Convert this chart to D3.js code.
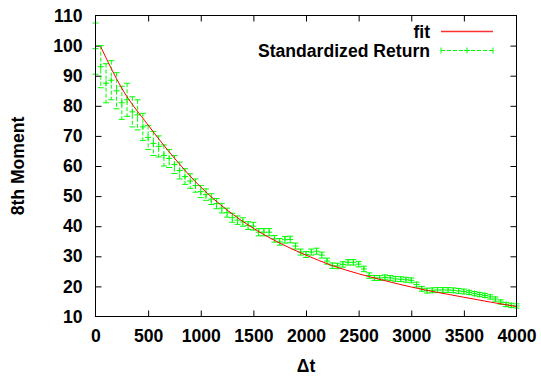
<!DOCTYPE html>
<html>
<head>
<meta charset="utf-8">
<script src="https://cdn.jsdelivr.net/npm/d3@7"></script>
<style>
  html, body { margin: 0; padding: 0; background: #fff; }
  svg { display: block; }
  text { font-family: "Liberation Sans", Arial, sans-serif; font-weight: bold; fill: #000; }
</style>
</head>
<body>
<svg id="chart" width="541" height="377"></svg>
<script>
// ---- Data ----
const dtValues = [
  0, 50, 100, 150, 200, 250, 300, 350, 400, 450,
  500, 550, 600, 650, 700, 750, 800, 850, 900, 950,
  1000, 1050, 1100, 1150, 1200, 1250, 1300, 1350, 1400, 1450,
  1500, 1550, 1600, 1650, 1700, 1750, 1800, 1850, 1900, 1950,
  2000, 2050, 2100, 2150, 2200, 2250, 2300, 2350, 2400, 2450,
  2500, 2550, 2600, 2650, 2700, 2750, 2800, 2850, 2900, 2950,
  3000, 3050, 3100, 3150, 3200, 3250, 3300, 3350, 3400, 3450,
  3500, 3550, 3600, 3650, 3700, 3750, 3800, 3850, 3900, 3950,
  4000
];
const momentValues = [
  99, 93, 87.5, 88.5, 85, 81, 82, 78, 77, 73,
  69.5, 67.5, 66.5, 63.5, 62.5, 60.5, 58.5, 56.5, 55, 53.5,
  51.5, 50.5, 49, 47.5, 46, 44.5, 42.8, 42, 41.4, 40.2,
  40, 38, 38, 38, 35.8, 34.8, 35.5, 35.6, 33.4, 31.4,
  30.6, 31.4, 31.7, 30.4, 28.4, 26.9, 26.8, 27.3, 28, 28,
  27.4, 25.8, 23.6, 22.8, 22.8, 23, 22.8, 22.5, 22.4, 22.2,
  22, 20.6, 19.2, 18.6, 18.7, 18.8, 18.8, 18.8, 18.7, 18.5,
  18.3, 18, 17.6, 17.3, 17, 16.5, 15.8, 14.8, 14, 13.7,
  13.5
];
const momentErrors = [
  8.5, 7, 6.5, 6.5, 6, 5.5, 5.5, 5, 5, 4.5,
  4, 4, 3.5, 3.5, 3, 3, 2.8, 2.6, 2.4, 2.2,
  2, 1.9, 1.8, 1.7, 1.6, 1.5, 1.5, 1.4, 1.4, 1.3,
  1.3, 1.2, 1.2, 1.2, 1.1, 1.1, 1.1, 1.1, 1.0, 1.0,
  1.0, 1.0, 1.0, 1.0, 1.0, 0.9, 0.9, 0.9, 0.9, 0.9,
  0.9, 0.9, 0.9, 0.8, 0.8, 0.8, 0.8, 0.8, 0.8, 0.8,
  0.8, 0.8, 0.8, 0.8, 0.8, 0.8, 0.8, 0.8, 0.8, 0.8,
  0.8, 0.7, 0.7, 0.7, 0.7, 0.7, 0.7, 0.7, 0.7, 0.7,
  0.7
];
const fitDt = [50, 250, 500, 750, 1000, 1250, 1500, 1750, 2000, 2250, 2500, 2750, 3000, 3250, 3500, 3750, 4000];
const fitValues = [99.6, 85.8, 73.6, 62.6, 53.0, 45.4, 39.3, 34.4, 30.4, 26.9, 24.2, 21.9, 19.8, 18.0, 16.4, 14.8, 13.3];
const xTicks = [0, 500, 1000, 1500, 2000, 2500, 3000, 3500, 4000];
const yTicks = [10, 20, 30, 40, 50, 60, 70, 80, 90, 100, 110];
const xTitle = "\u0394t";
const yTitle = "8th Moment";
const legendLabels = ["fit", "Standardized Return"];

// ---- Layout ----
const svg = d3.select("#chart");
const L = 95.5, R = 516.5, T = 15.5, B = 316.5;
const x = d3.scaleLinear().domain([0, 4000]).range([L, R]);
const y = d3.scaleLinear().domain([10, 110]).range([B, T]);
const green = "#00ff00", red = "#ff0000";
const tick = 6;
const fs = 17.6;

// axes
const gl = svg.append("g").attr("transform", `translate(${L},0)`)
  .call(d3.axisLeft(y).tickValues(yTicks).tickSize(-tick).tickPadding(13).tickFormat(d3.format("d")));
const gr = svg.append("g").attr("transform", `translate(${R},0)`)
  .call(d3.axisRight(y).tickValues(yTicks.slice(1, -1)).tickSize(-tick).tickFormat(""));
const gb = svg.append("g").attr("transform", `translate(0,${B})`)
  .call(d3.axisBottom(x).tickValues(xTicks).tickSize(-tick).tickPadding(13.5).tickFormat(d3.format("d")));
const gt = svg.append("g").attr("transform", `translate(0,${T})`)
  .call(d3.axisTop(x).tickValues(xTicks.slice(1, -1)).tickSize(-tick).tickFormat(""));
[gl, gr, gb, gt].forEach(g => {
  g.select(".domain").remove();
  g.selectAll("line").attr("stroke", "#000").attr("stroke-width", 1);
  g.selectAll("text").attr("font-size", fs).attr("font-family", "Liberation Sans, Arial, sans-serif").attr("font-weight", "bold").attr("fill", "#000");
});
gl.selectAll(".tick line").filter(d => d === 10 || d === 110).remove();
gb.selectAll(".tick line").filter(d => d === 0 || d === 4000).remove();

// data group (error bars)
const data = dtValues.map((d, i) => ({ dt: d, v: momentValues[i], e: momentErrors[i] }));
const pts = svg.append("g");
const cap = 3, cross = 3;
data.forEach(d => {
  const cx = x(d.dt), y1 = y(d.v + d.e), y0 = y(d.v - d.e);
  pts.append("line").attr("x1", cx).attr("x2", cx).attr("y1", y1).attr("y2", y0)
    .attr("stroke", green).attr("stroke-width", 1).attr("stroke-dasharray", "4,2");
  pts.append("line").attr("x1", cx - cap).attr("x2", cx + cap).attr("y1", y1).attr("y2", y1)
    .attr("stroke", green).attr("stroke-width", 1);
  pts.append("line").attr("x1", cx - cap).attr("x2", cx + cap).attr("y1", y0).attr("y2", y0)
    .attr("stroke", green).attr("stroke-width", 1);
});

// fit line
const line = d3.line().x(d => x(d[0])).y(d => y(d[1])).curve(d3.curveMonotoneX);
svg.append("path").datum(fitDt.map((d, i) => [d, fitValues[i]]))
  .attr("d", line).attr("fill", "none").attr("stroke", red).attr("stroke-width", 1);

// crosses
data.forEach(d => {
  const cx = x(d.dt), cy = y(d.v);
  pts.append("path").attr("d", `M${cx - cross},${cy}H${cx + cross}M${cx},${cy - cross}V${cy + cross}`)
    .attr("stroke", green).attr("stroke-width", 1).attr("fill", "none");
});

// frame
svg.append("rect").attr("x", L).attr("y", T).attr("width", R - L).attr("height", B - T)
  .attr("fill", "none").attr("stroke", "#000").attr("stroke-width", 1);

// titles
svg.append("text").attr("x", (L + R) / 2).attr("y", 372).attr("text-anchor", "middle")
  .attr("font-size", fs).text(xTitle);
svg.append("text").attr("transform", `translate(24,${(T + B) / 2}) rotate(-90)`)
  .attr("text-anchor", "middle").attr("font-size", fs).text(yTitle);

// legend
const lgX1 = 441, lgX2 = 493, lgText = 430;
svg.append("text").attr("x", lgText).attr("y", 38).attr("text-anchor", "end").attr("font-size", fs).text(legendLabels[0]);
svg.append("line").attr("x1", lgX1).attr("x2", lgX2).attr("y1", 31.5).attr("y2", 31.5)
  .style("stroke", "#ff3030").attr("stroke-width", 1.3);
svg.append("text").attr("x", lgText).attr("y", 57).attr("text-anchor", "end").attr("font-size", fs).text(legendLabels[1]);
const ly = 50.5;
svg.append("line").attr("x1", lgX1).attr("x2", lgX2).attr("y1", ly).attr("y2", ly)
  .attr("stroke", green).attr("stroke-width", 1).attr("stroke-dasharray", "4,2");
[lgX1, lgX2].forEach(px => svg.append("line").attr("x1", px).attr("x2", px).attr("y1", ly - 3).attr("y2", ly + 3).attr("stroke", green));
svg.append("path").attr("d", `M${(lgX1 + lgX2) / 2 - cross},${ly}H${(lgX1 + lgX2) / 2 + cross}M${(lgX1 + lgX2) / 2},${ly - cross}V${ly + cross}`)
  .attr("stroke", green).attr("fill", "none");
</script>
</body>
</html>
